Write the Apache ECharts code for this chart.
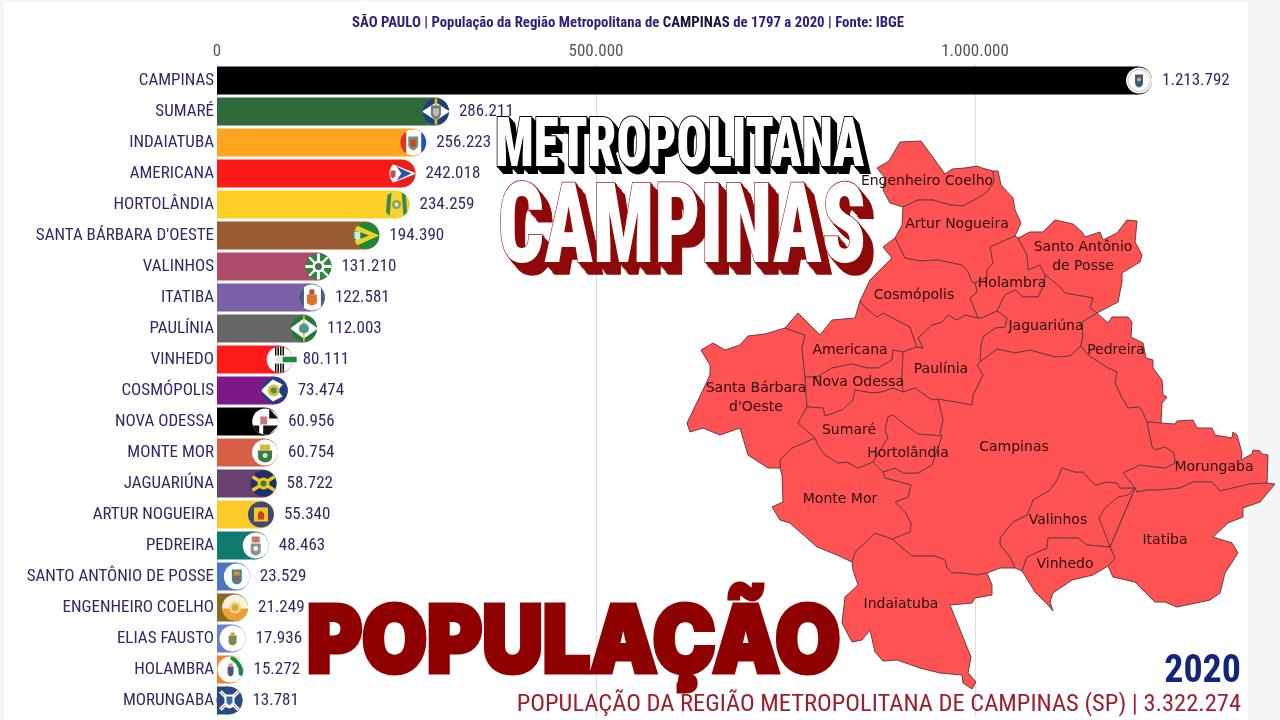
<!DOCTYPE html>
<html><head><meta charset="utf-8">
<style>html,body{margin:0;padding:0;background:#f5f5f5}#c{width:1280px;height:720px}</style>
<script src="https://cdn.jsdelivr.net/npm/echarts@6/dist/echarts.min.js"></script>
</head><body><div id="c"></div>
<script>
const categories=["CAMPINAS","SUMARÉ","INDAIATUBA","AMERICANA","HORTOLÂNDIA","SANTA BÁRBARA D'OESTE","VALINHOS","ITATIBA","PAULÍNIA","VINHEDO","COSMÓPOLIS","NOVA ODESSA","MONTE MOR","JAGUARIÚNA","ARTUR NOGUEIRA","PEDREIRA","SANTO ANTÔNIO DE POSSE","ENGENHEIRO COELHO","ELIAS FAUSTO","HOLAMBRA","MORUNGABA"];
const population=[1213792,286211,256223,242018,234259,194390,131210,122581,112003,80111,73474,60956,60754,58722,55340,48463,23529,21249,17936,15272,13781];
const barColors=["#000000","#2f6b3a","#ffa51f","#fb1a16","#fbcf24","#9a5b32","#b04c6c","#7b5fa8","#666666","#ff1a1a","#7d1888","#000000","#d65f45","#6a4070","#fccb28","#0e7a70","#4a74c4","#8a6a1c","#6a80d0","#f0842c","#1f4a78"];
const tickStep=500000, axisMax=1500000;
const NARROW='"Roboto Condensed","Roboto",sans-serif';
const NAVY='#2b2a68';

/* region outline of the municipalities, as shared border pieces */
const S={
ec_top:"877,168 889,161 900,142 921,141 945,174 952,169 965,168 977,166 982,168 993,171",
ec_an:"993,171 994,182 987,192 978,198 963,206 950,205 933,200 918,200 903,207",
ec_bot:"903,207 890,203",
ec_left:"890,203 883,190 885,178 877,168",
an_right:"993,171 998,171 1001,185 1013,198 1015,210 1021,223 1015,236",
an_hol:"1015,236 990,247 993,263 987,270 987,277 975,283",
an_cos:"975,283 972,282 968,272 962,265 937,260 920,261 905,258 895,238",
an_left:"895,238 902,225 903,207",
hs1:"1015,236 1018,238",
hol_sa:"1018,238 1027,255 1028,270 1040,265 1045,275",
hol_jag:"1045,275 1044,285 1038,297 1023,297 1015,290 1005,295 997,311",
hol_pau:"997,311 982,318 978,318",
hol_cos:"978,318 970,298 977,292 975,283",
sa_out:"1018,238 1030,232 1043,232 1055,220 1073,224 1082,232 1085,237 1100,232 1103,240 1117,233 1127,220 1137,221 1135,242 1142,255 1140,262 1122,273 1122,282 1118,302 1097,313",
sa_jag:"1097,313 1090,308 1093,298 1065,293 1058,285 1045,275",
jag_ped:"1097,313 1082,322 1083,335 1081,346",
jag_cam:"1081,346 1070,356 1055,357 1030,350 1015,353 997,349 980,362",
jag_pau:"980,362 981,345 983,337 995,328 1005,327 1007,318 997,311",
ped_out:"1097,313 1108,323 1112,317 1128,317 1132,322 1131,337 1143,343 1146,358 1153,360 1153,368 1162,380 1163,395 1167,397 1162,403 1161,423",
ped_mor:"1161,423 1147,422",
ped_cam:"1147,422 1143,413 1139,407 1128,408 1122,398 1115,383 1117,372 1108,368 1088,355 1081,346",
mor_out:"1161,423 1175,424 1177,421 1193,420 1197,428 1212,428 1215,435 1232,438 1233,432 1237,435 1242,453 1241,460 1252,454 1253,450 1260,451 1262,454 1268,455 1267,483",
mor_it:"1267,483 1250,484 1220,491 1212,482 1193,482 1180,488 1160,490 1147,490 1137,492 1135,488",
mor_cam:"1135,488 1123,473 1140,465 1165,468 1175,463 1174,453 1165,447 1155,450 1152,447 1147,422",
it_out:"1267,483 1275,484 1260,502 1243,508 1243,517 1228,523 1213,537 1232,543 1238,553 1225,573 1220,593 1210,600 1177,607 1165,602 1155,602 1135,582 1113,577 1108,566",
it_vin:"1108,566 1115,558 1110,547",
it_val:"1110,547 1099,518 1105,508 1118,497 1128,495 1135,488",
val_cam:"1135,488 1128,488 1120,488 1117,483 1107,482 1095,485 1083,472 1075,472 1062,468 1057,480 1050,490 1033,500 1027,515 1013,522 1000,538 1000,545 1010,557 1015,568",
val_out:"1015,568 1022,571",
val_vin:"1022,571 1027,557 1047,548 1048,538 1078,538 1087,545 1110,547",
vin_out:"1022,571 1035,592 1048,605 1053,611 1050,602 1053,593 1072,580 1093,575 1108,566",
cam_out:"1015,568 1000,568 987,573",
cam_ind:"987,573 977,575 963,573 952,573 947,568 945,560 935,556 912,556 892,539",
cam_mm:"892,539 910,532 911,523 905,512 895,502 908,497 911,485 885,478 883,472",
hor_cam:"883,472 895,468 903,473 918,473 932,465 942,436",
sum_cam:"942,436 940,433 943,420 938,399",
pau_cam:"938,399 962,403 972,405 973,395 983,375 977,365 980,362",
ind_out:"987,573 992,585 992,595 975,598 972,603 950,605 971,657 968,673 976,682 972,689 963,683 962,675 940,673 920,668 897,660 883,661 875,652 870,630 862,640 852,642 842,623 845,597 858,585 853,570 852,562",
ind_mm:"852,562 855,552 875,533 892,539",
mm_out:"852,562 837,555 817,547 790,523 780,520 772,507 783,502 782,475 780,468",
mm_sb:"780,468 780,460 792,448 815,438",
sum_mm:"815,438 818,445 825,455 838,463 847,462 858,468 873,462",
hor_mm:"873,462 883,472",
sb_out:"785,328 765,334 748,336 740,345 725,350 713,343 701,350 710,365 710,375 702,392 687,423 690,432 703,428 720,435 740,428 748,455 768,468 780,468",
sb_am:"785,328 805,335 802,348 805,377",
sb_no:"805,377 807,407",
sb_sum:"807,407 798,423 815,438",
am_out:"785,328 798,313 820,335 832,320 855,318 860,301",
am_cos:"860,301 865,307 877,317 883,313 910,327 917,347",
am_p:"917,347 903,352",
am_no:"903,352 893,350 892,360 878,368 867,368 852,364 832,368 817,377 805,377",
no_pau:"903,352 902,377 903,392",
no_sum:"903,392 893,388 882,392 872,393 855,390 853,400 842,410 825,416 823,408 807,407",
cos_pau:"917,347 923,348 918,338 932,325 942,322 948,315 957,320 965,315 978,318",
cos_out:"895,238 883,247 892,258 870,280 860,301",
pau_sum:"938,399 932,400 915,388 903,392",
sum_hor:"942,436 918,434 905,425 893,415 888,417 885,430 888,438 873,462"
};
/* name, label anchor, ring recipe ("-" = reversed piece) */
const regions=[
["Engenheiro Coelho","927,181","ec_top ec_an ec_bot ec_left"],
["Artur Nogueira","957,224","an_right an_hol an_cos an_left -ec_an"],
["Holambra","1012,283","hs1 hol_sa hol_jag hol_pau hol_cos -an_hol"],
["Santo Antônio de Posse","1083,257","sa_out sa_jag -hol_sa"],
["Jaguariúna","1046,326","-sa_jag jag_ped jag_cam jag_pau -hol_jag"],
["Pedreira","1116,350","ped_out ped_mor ped_cam -jag_ped"],
["Morungaba","1214,467","mor_out mor_it mor_cam -ped_mor"],
["Itatiba","1165,540","it_out it_vin it_val -mor_it"],
["Valinhos","1058,520","-it_val val_cam val_out val_vin"],
["Vinhedo","1065,564","vin_out it_vin -val_vin"],
["Campinas","1014,447","-jag_cam -ped_cam -mor_cam val_cam cam_out cam_ind cam_mm hor_cam sum_cam pau_cam"],
["Indaiatuba","901,604","ind_out ind_mm -cam_ind"],
["Monte Mor","840,499","mm_out mm_sb sum_mm hor_mm -cam_mm -ind_mm"],
["Santa Bárbara d'Oeste","756,398","sb_out mm_sb -sb_sum -sb_no -sb_am"],
["Americana","850,350","am_out am_cos am_p am_no -sb_am"],
["Nova Odessa","858,382","-am_no no_pau no_sum -sb_no"],
["Paulínia","941,369","cos_pau -hol_pau -jag_pau -pau_cam pau_sum -no_pau -am_p"],
["Cosmópolis","914,295","-an_cos -hol_cos -cos_pau -am_cos -cos_out"],
["Sumaré","849,430","-no_sum -pau_sum -sum_cam sum_hor -sum_mm -sb_sum"],
["Hortolândia","908,453","sum_hor hor_mm hor_cam"]
];
const pt=s=>{const [x,y]=s.split(',').map(Number);return [x,-y];};
const piece=k=>{const rev=k[0]==='-';const a=S[rev?k.slice(1):k].split(' ').map(pt);return rev?a.reverse():a;};
const geoJson={type:'FeatureCollection',features:regions.map(([name,cp,recipe])=>{
  const ring=recipe.split(' ').flatMap(piece);ring.push(ring[0]);
  return {type:'Feature',properties:{name,cp:pt(cp)},geometry:{type:'Polygon',coordinates:[ring]}};
})};
echarts.registerMap('rmc',geoJson);

/* small flag badges */
const shield=(c1,c2)=>`<path d="M-5-6H5V2Q5 6 0 8Q-5 6-5 2Z" fill="${c1}"/><path d="M-3-3H3V1Q3 4 0 5Q-3 4-3 1Z" fill="${c2}"/>`;
const flags={
"CAMPINAS":`<rect x="-20" y="-20" width="40" height="40" fill="#fff"/><circle r="11" fill="none" stroke="#d8d8d8" stroke-width="1.5"/><path d="M-4-6H4V2Q4 6 0 7Q-4 6-4 2Z" fill="#3a5a8a"/><circle cy="-1" r="2" fill="#d8b84a"/>`,
"SUMARÉ":`<rect x="-20" y="-20" width="40" height="40" fill="#1f3f7a"/><path d="M-14 0L0-9L14 0L0 9Z" fill="#fff"/><rect x="-1.3" y="-14" width="2.6" height="28" fill="#e8b820"/>`+shield('#777','#bbb'),
"INDAIATUBA":`<rect x="-20" y="-20" width="40" height="40" fill="#fff"/><rect x="-20" y="-20" width="13" height="40" fill="#e8301c"/><rect x="8" y="-20" width="12" height="40" fill="#2050c0"/>`+shield('#6a9a78','#c8443a'),
"AMERICANA":`<rect x="-20" y="-20" width="40" height="40" fill="#e8201c"/><path d="M-14-11L14 0L-14 11Z" fill="#fff"/><path d="M-6-7L9 0L-6 7L-1 0Z" fill="#2a50b0"/><path d="M-12-3H-7V3L-9.5 5L-12 3Z" fill="#c05050"/>`,
"HORTOLÂNDIA":`<rect x="-20" y="-20" width="40" height="40" fill="#f6d330"/><path d="M-9-13L-5-13L-7 13L-11 13Z" fill="#3c8a4c"/><path d="M5-13L9-13L11 13L7 13Z" fill="#3c8a4c"/><circle r="4.5" fill="#8aa84a"/><circle r="2" fill="#eee"/>`,
"SANTA BÁRBARA D'OESTE":`<rect x="-20" y="-20" width="40" height="40" fill="#1a8a3a"/><path d="M-14-12L13 0L-14 12Z" fill="#f4d020"/><path d="M-14-6L3 0L-14 6Z" fill="#1a7a44"/><path d="M-12-4H-6V3L-9 5L-12 3Z" fill="#d8e8d8"/>`,
"VALINHOS":`<rect x="-20" y="-20" width="40" height="40" fill="#2a8a3a"/><path d="M-14-1.5H14V1.5H-14ZM-1.5-14H1.5V14H-1.5Z" fill="#fff"/><path d="M-10-10L10 10M10-10L-10 10" stroke="#fff" stroke-width="2.4"/><circle r="6" fill="#fff"/><circle r="3.5" fill="#4a6a5a"/>`,
"ITATIBA":`<rect x="-20" y="-20" width="40" height="40" fill="#fff"/><rect x="-20" y="-20" width="12" height="40" fill="#4a5a80"/><rect x="9" y="-20" width="11" height="40" fill="#4a5a80"/><path d="M-5-3H5V4Q5 7 0 8Q-5 7-5 4Z" fill="#e0702a"/><rect x="-2.5" y="-8" width="5" height="5" fill="#b05040"/>`,
"PAULÍNIA":`<rect x="-20" y="-20" width="40" height="40" fill="#1d7a3a"/><path d="M-14 0L0-10L14 0L0 10Z" fill="#fff"/><rect x="-.8" y="-14" width="1.6" height="28" fill="#e8c820"/><circle r="5" fill="#4a9a8a"/>`,
"VINHEDO":`<rect x="-20" y="-20" width="40" height="40" fill="#fff"/><path d="M-4-14V-4M-1.5-14V-4M1-14V-4M3.5-14V-4M-4 14V4M-1.5 14V4M1 14V4M3.5 14V4" stroke="#111" stroke-width="1.5"/><rect x="-4" y="-3" width="7" height="6" fill="#e8e8e8"/>`,
"COSMÓPOLIS":`<rect x="-20" y="-20" width="40" height="40" fill="#1f3f80"/><path d="M-14 0L-2-11L8-6L3 0L8 6L-2 11Z" fill="#fff"/><circle cx="-1" r="6" fill="#d8c040"/><circle cx="-1" r="3" fill="#4a8a5a"/>`,
"NOVA ODESSA":`<rect x="-20" y="-20" width="40" height="40" fill="#fff"/><path d="M4-13L13-3H4Z" fill="#111"/><path d="M-2 4H13L4 13H-2Z" fill="#111"/><path d="M-13 4H-6V12H-13Z" fill="#111"/><rect x="-5" y="-5" width="7" height="8" fill="#c87a80"/>`,
"MONTE MOR":`<rect x="-20" y="-20" width="40" height="40" fill="#fff"/><path d="M-7-2H7V4Q7 9 0 10Q-7 9-7 4Z" fill="#3a7a40"/><path d="M-5-8H5V-2H-5Z" fill="#d8b840"/><circle cy="3" r="2.5" fill="#ddd"/>`,
"JAGUARIÚNA":`<rect x="-20" y="-20" width="40" height="40" fill="#1f2f6a"/><path d="M-13-8L13 8M-13 8L13-8" stroke="#f0c820" stroke-width="3.5"/><circle r="6" fill="#f0c820"/><circle r="3" fill="#3a7a50"/>`,
"ARTUR NOGUEIRA":`<rect x="-20" y="-20" width="40" height="40" fill="#3f4a78"/><rect x="-7" y="-7" width="14" height="14" fill="#f4c820"/><path d="M-3 5V-1L0-4L3-1V5Z" fill="#c83a2a"/>`,
"PEDREIRA":`<rect x="-20" y="-20" width="40" height="40" fill="#fff"/><path d="M-5-2H5V6Q5 9 0 10Q-5 9-5 6Z" fill="#8a8f98"/><path d="M-4-9H4V-3H-4Z" fill="#c87860"/><circle cy="3" r="2.5" fill="#eee"/>`,
"SANTO ANTÔNIO DE POSSE":`<rect x="-20" y="-20" width="40" height="40" fill="#fff"/><path d="M-5-7H5V3Q5 7 0 8Q-5 7-5 3Z" fill="#3a8a8a"/><path d="M-3-5H3V-1H-3Z" fill="#d88a3a"/><path d="M-3 1H3V3L0 5L-3 3Z" fill="#c84a3a"/>`,
"ENGENHEIRO COELHO":`<rect x="-20" y="-20" width="40" height="40" fill="#f4f1e0"/><rect x="-20" y="1" width="40" height="20" fill="#f0a030"/><circle r="6" fill="#f4d88a"/><circle r="3.5" fill="#d8a848"/>`,
"ELIAS FAUSTO":`<rect x="-20" y="-20" width="40" height="40" fill="#fff"/><path d="M-4-3H4V3Q4 6 0 7Q-4 6-4 3Z" fill="#7a8a50"/><rect x="-2" y="-6" width="4" height="3" fill="#c8a040"/>`,
"HOLAMBRA":`<rect x="-20" y="-20" width="40" height="40" fill="#fff"/><path d="M0-14Q14-8 13 8L8 5Q9-5 0-10Z" fill="#1a8a4a"/><path d="M-3-3H3V3Q3 6 0 7Q-3 6-3 3Z" fill="#4a5a7a"/><rect x="-2" y="-6" width="4" height="3" fill="#c8a060"/>`,
"MORUNGABA":`<rect x="-20" y="-20" width="40" height="40" fill="#2b4a80"/><path d="M-11-11L11 11M11-11L-11 11" stroke="#fff" stroke-width="3.6"/><path d="M-11-11L11 11M11-11L-11 11" stroke="#d0604a" stroke-width="1"/><path d="M-5-6H5V3Q5 7 0 8Q-5 7-5 3Z" fill="#fff"/><path d="M-3-4H3V2L0 5L-3 2Z" fill="#3a6aa8"/>`
};
const vinhedoTail=`<rect x="3" y="-2.8" width="14" height="5.6" fill="#1f8a44"/>`;
const flagImages={};
categories.forEach(c=>{
  const svg=`<svg xmlns="http://www.w3.org/2000/svg" width="40" height="40" viewBox="-20 -20 40 40"><defs><clipPath id="k"><circle r="13"/></clipPath></defs>`+
   `<g clip-path="url(#k)">${flags[c]}</g>`+(c==='VINHEDO'?vinhedoTail:'')+`</svg>`;
  flagImages[c]='data:image/svg+xml;charset=utf-8,'+encodeURIComponent(svg);
});

const fmt=n=>String(n).replace(/\B(?=(\d{3})+(?!\d))/g,'.');

/* extruded overlay words */
function extruded(text,x,y,size,scaleX,fill,depthColor,dx,dy,steps,strokeW){
  const font=`900 ${size}px "Roboto Condensed"`;
  const out=[];
  for(let i=steps;i>=1;i--){
    out.push({type:'text',x:x+dx*i/steps,y:y+dy*i/steps,scaleX,z:50,silent:true,style:{text,font,fill:depthColor,stroke:depthColor,lineWidth:strokeW,textVerticalAlign:'top'}});
  }
  out.push({type:'text',x,y,scaleX,z:51,silent:true,style:{text,font,fill,stroke:depthColor,lineWidth:strokeW,textVerticalAlign:'top'}});
  return out;
}
const overlays=[
 {type:'rect',z:-10,silent:true,shape:{x:4,y:2,width:1244,height:718},style:{fill:'#ffffff'}},
 ...extruded('METROPOLITANA',495,114,69,0.74,'#ffffff','#000000',6,7,7,2),
 ...extruded('CAMPINAS',498,178,112,0.72,'#ffffff','#8f0a0a',10,12,10,1.5),
 {type:'text',x:307,y:598,scaleX:0.912,z:52,silent:true,style:{text:'POPULAÇÃO',font:'900 92px "Inter"',fill:'#8f0000',stroke:'#8f0000',lineWidth:5,textVerticalAlign:'top'}},
 {type:'text',x:1241,y:653,z:52,silent:true,style:{text:'2020',font:`bold 38px ${NARROW}`,fill:'#12247e',textAlign:'right',textVerticalAlign:'top'}},
 {type:'text',x:1241,y:692,z:52,silent:true,style:{text:'POPULAÇÃO DA REGIÃO METROPOLITANA DE CAMPINAS (SP) | 3.322.274',font:`24.5px ${NARROW}`,fill:'#9c1f2c',textAlign:'right',textVerticalAlign:'top'}}
];

const chart=echarts.init(document.getElementById('c'),null,{renderer:'canvas'});
chart.setOption({
 animation:false,
 backgroundColor:'#f5f5f5',
 title:{left:352,top:16,padding:0,text:'{a|SÃO PAULO | População da Região Metropolitana de }{b|CAMPINAS}{a| de 1797 a 2020 | Fonte: IBGE}',
   textStyle:{rich:{a:{fontFamily:NARROW,fontSize:14.8,fontWeight:'bold',color:'#2a1f7c'},b:{fontFamily:NARROW,fontSize:14.8,fontWeight:'bold',color:'#141440'}}}},
 grid:{left:217,top:65,width:1137,height:651,outerBoundsMode:'none'},
 xAxis:{type:'value',position:'top',min:0,max:axisMax,interval:tickStep,
   axisLine:{show:false},axisTick:{show:false},
   axisLabel:{formatter:fmt,fontFamily:NARROW,fontSize:17,color:'#555555',margin:5},
   splitLine:{show:true,lineStyle:{color:'#dcdcdc',width:1}}},
 yAxis:{type:'category',inverse:true,data:categories,
   axisLine:{show:false},axisTick:{show:false},splitLine:{show:false},
   axisLabel:{fontFamily:NARROW,fontSize:17,color:NAVY,margin:3}},
 series:[
  {type:'bar',name:'População 2020',data:population.map((v,i)=>({value:v,itemStyle:{color:barColors[i]}})),
   barWidth:28,z:2,silent:true,
   label:{show:true,position:'right',distance:25,formatter:p=>fmt(p.value),fontFamily:NARROW,fontSize:17,color:NAVY}},
  {type:'custom',name:'Bandeiras',silent:true,z:3,coordinateSystem:'cartesian2d',
   data:population.map((v,i)=>[v,i]),encode:{x:0,y:1},
   renderItem:(params,api)=>{
     const i=api.value(1);const p=api.coord([api.value(0),i]);
     return {type:'group',children:[
       {type:'rect',shape:{x:p[0]-1,y:p[1]-14,width:16,height:28,r:[0,14,14,0]},style:{fill:barColors[i]}},
       {type:'image',style:{image:flagImages[categories[i]],x:p[0]+2-20,y:p[1]-20,width:40,height:40}}
     ]};
   }},
  {type:'map',map:'rmc',name:'Municípios',silent:true,roam:false,selectedMode:false,aspectScale:1,z:1,
   left:687,top:141,width:588,height:548,
   data:regions.map(r=>({name:r[0],value:population[categories.indexOf(r[0].toUpperCase())]})),
   itemStyle:{areaColor:'#ff5353',borderColor:'#6e3a3c',borderWidth:1},
   label:{show:true,color:'#2a0c0e',fontFamily:'"DejaVu Sans",sans-serif',fontSize:14,lineHeight:19,
     formatter:p=>p.name.replace('Santo Antônio de','Santo Antônio\nde').replace("Bárbara d'","Bárbara\nd'")}}
 ],
 graphic:{elements:overlays}
});
</script></body></html>
